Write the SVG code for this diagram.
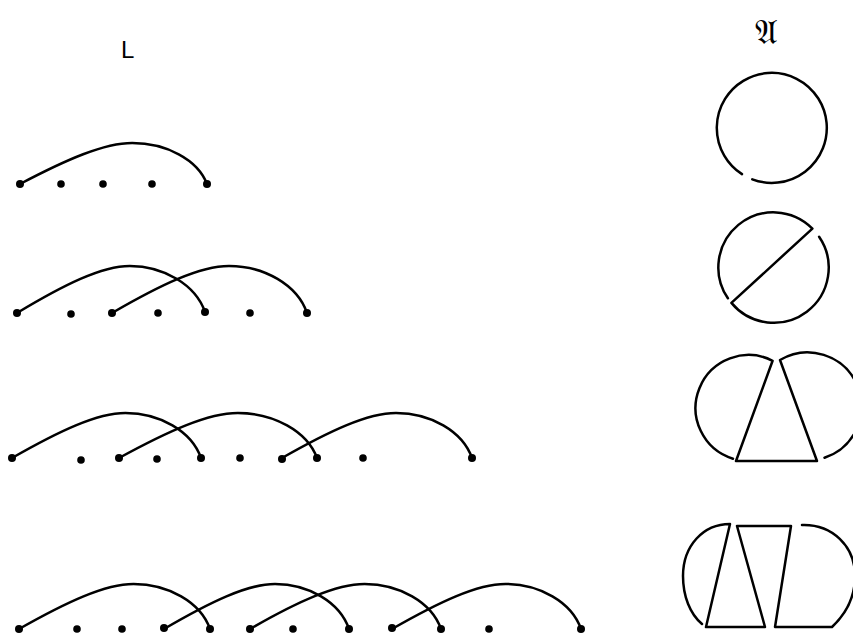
<svg xmlns="http://www.w3.org/2000/svg" width="853" height="634" viewBox="0 0 853 634">
<style>
.arc{fill:none;stroke:#000;stroke-width:2.5;stroke-linecap:round;stroke-linejoin:round}
.dot{fill:#000}
.lbl{font-family:"Liberation Sans",Arial,sans-serif;fill:#000}
.frak{font-family:"DejaVu Sans","DejaVu Serif","Noto Sans",serif;fill:#000}
</style>
<rect width="853" height="634" fill="#fff"/>
<text class="lbl" x="121" y="58" font-size="24">L</text>
<text class="frak" x="766" y="44" font-size="34" text-anchor="middle">𝔄</text>

<g id="row1">
<g id="r1-connectors">
<path class="arc" d="M20,184 C66.8,159.4 104.2,143 132.2,143 C165.9,143 197.7,159.4 207,184"/>
</g>
<g id="r1-nodes">
<circle class="dot" cx="20" cy="184" r="4"/><circle class="dot" cx="61" cy="184" r="3.8"/><circle class="dot" cx="103" cy="184" r="3.8"/><circle class="dot" cx="152" cy="184" r="3.8"/><circle class="dot" cx="207" cy="184" r="4"/>
</g>
</g>

<g id="row2">
<g id="r2-connectors">
<path class="arc" d="M17,313 C64,284.8 101.6,266 129.8,266 C163.6,266 195.6,284.8 205,312"/>
<path class="arc" d="M112,313 C160.8,284.8 199.8,266 229,266 C264.1,266 297.3,284.8 307,313"/>
</g>
<g id="r2-nodes">
<circle class="dot" cx="17" cy="313" r="4"/><circle class="dot" cx="71" cy="314" r="3.8"/><circle class="dot" cx="112" cy="313" r="4"/><circle class="dot" cx="158" cy="313" r="3.8"/><circle class="dot" cx="205" cy="312" r="4"/><circle class="dot" cx="250" cy="313" r="3.8"/><circle class="dot" cx="307" cy="313" r="4"/>
</g>
</g>

<g id="row3">
<g id="r3-connectors">
<path class="arc" d="M12,458 C59.3,431 97.1,413 125.4,413 C159.4,413 191.6,431 201,458"/>
<path class="arc" d="M119,458 C168.5,431 208.1,413 237.8,413 C273.4,413 307.1,431 317,458"/>
<path class="arc" d="M282,458 C329.5,431 367.5,413 396,413 C430.2,413 462.5,431 472,458"/>
</g>
<g id="r3-nodes">
<circle class="dot" cx="12" cy="458" r="4"/><circle class="dot" cx="81" cy="460" r="3.8"/><circle class="dot" cx="119" cy="458" r="4"/><circle class="dot" cx="157" cy="459" r="3.8"/><circle class="dot" cx="201" cy="458" r="4"/><circle class="dot" cx="240" cy="458" r="3.8"/><circle class="dot" cx="282" cy="459" r="4"/><circle class="dot" cx="317" cy="458" r="4"/><circle class="dot" cx="363" cy="458" r="3.8"/><circle class="dot" cx="472" cy="458" r="4"/>
</g>
</g>

<g id="row4">
<g id="r4-connectors">
<path class="arc" d="M19,629 C66.8,602 105,584 133.6,584 C168,584 200.5,602 210,629"/>
<path class="arc" d="M164,629 C210.3,602 247.3,584 275,584 C308.3,584 339.8,602 349,629"/>
<path class="arc" d="M250,629 C296.8,602 336,584 364.6,584 C399,584 431.5,602 441,629"/>
<path class="arc" d="M392,629 C439.3,602 477.1,584 505.4,584 C539.4,584 571.6,602 581,629"/>
</g>
<g id="r4-nodes">
<circle class="dot" cx="19" cy="629" r="4"/><circle class="dot" cx="77" cy="629" r="3.8"/><circle class="dot" cx="122" cy="629" r="3.8"/><circle class="dot" cx="164" cy="628" r="4"/><circle class="dot" cx="210" cy="629" r="4"/><circle class="dot" cx="250" cy="629" r="4"/><circle class="dot" cx="293" cy="629" r="3.8"/><circle class="dot" cx="349" cy="629" r="4"/><circle class="dot" cx="392" cy="628" r="4"/><circle class="dot" cx="441" cy="629" r="4"/><circle class="dot" cx="489" cy="629" r="3.8"/><circle class="dot" cx="581" cy="629" r="4"/>
</g>
</g>

<g id="graph1">
<path class="arc" d="M742,174.1 A55,55 0 1 1 752.3,179.3"/>
</g>
<g id="graph2">
<path class="arc" d="M819.1,236.7 A55,55 0 0 1 731.4,302.9 L812.4,228.6 A55,55 0 0 0 727.9,298.3"/>
</g>
<g id="graph3">
<path class="arc" d="M733,458.7 A53,53 0 1 1 772.6,360.8 L736,461 L817,461 L780,360 A54,54 0 1 1 824.5,457.7"/>
</g>
<g id="graph4">
<path class="arc" d="M702,624 C690,614 683,596 683,576 C683,546 703,524 730,524 L706,627 L765,627 L737,526 L791,526 L775,627 L832,627 C846,614 855,596 855,576 C855,546 832,524 802,525"/>
</g>
</svg>
